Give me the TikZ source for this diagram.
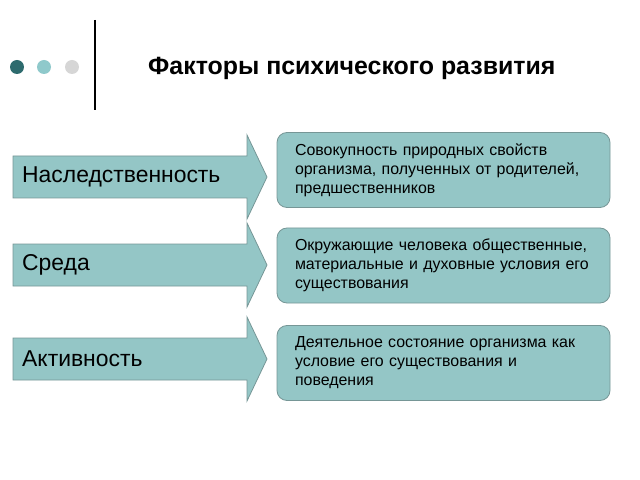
\documentclass[tikz,border=0pt]{standalone}
\usepackage{fontspec}
\setmainfont{Liberation Sans}
\usetikzlibrary{positioning}

\definecolor{tealfill}{RGB}{148,198,198}
\definecolor{tealline}{RGB}{118,150,150}
\definecolor{dotdark}{RGB}{46,107,110}
\definecolor{dotlight}{RGB}{143,201,203}
\definecolor{dotgrey}{RGB}{214,214,214}

\tikzset{
  factor/.style={draw=tealline, fill=tealfill, line width=0.8bp},
  factorname/.style={anchor=west, inner sep=0pt, font=\fontsize{23}{27}\selectfont},
  explain/.style={factor, rounded corners=10bp, minimum width=333bp, minimum height=75bp,
                  text width=297bp, align=left, inner sep=0pt,
                  font=\fontsize{16}{19}\selectfont},
}

\begin{document}
\begin{tikzpicture}[x=1bp, y=-1bp]
    \useasboundingbox (0,0) rectangle (640,480);

    % header
    \fill[dotdark]  (17,67) circle (7);
    \fill[dotlight] (44,67) circle (7);
    \fill[dotgrey]  (72,67) circle (7);
    \draw[line width=1.6bp] (95,20) -- (95,110);
    \node[anchor=west, inner sep=0pt, font=\fontsize{25}{29}\selectfont\bfseries] (title)
        at (148,68) {Факторы психического развития};

    % arrows with the factors
    \foreach \name/\yc/\text in {her/177/Наследственность, env/265/Среда, act/359/Активность}
    {
      \path[factor] (13,\yc-21) -- (247,\yc-21) -- (247,\yc-42) -- (267,\yc)
                 -- (247,\yc+42) -- (247,\yc+21) -- (13,\yc+21) -- cycle;
      \node[factorname] (\name) at (22,\yc) {\text};
    }

    % boxes with the explanations
    \node[explain] (herbox) at (443.5,170)
      {Совокупность природных свойств\\ организма, полученных от родителей,\\ предшественников};
    \node[explain] (envbox) at (443.5,265.5)
      {Окружающие человека общественные,\\ материальные и духовные условия его\\ существования};
    \node[explain] (actbox) at (443.5,363)
      {Деятельное состояние организма как\\ условие его существования и\\ поведения};

\end{tikzpicture}
\end{document}
